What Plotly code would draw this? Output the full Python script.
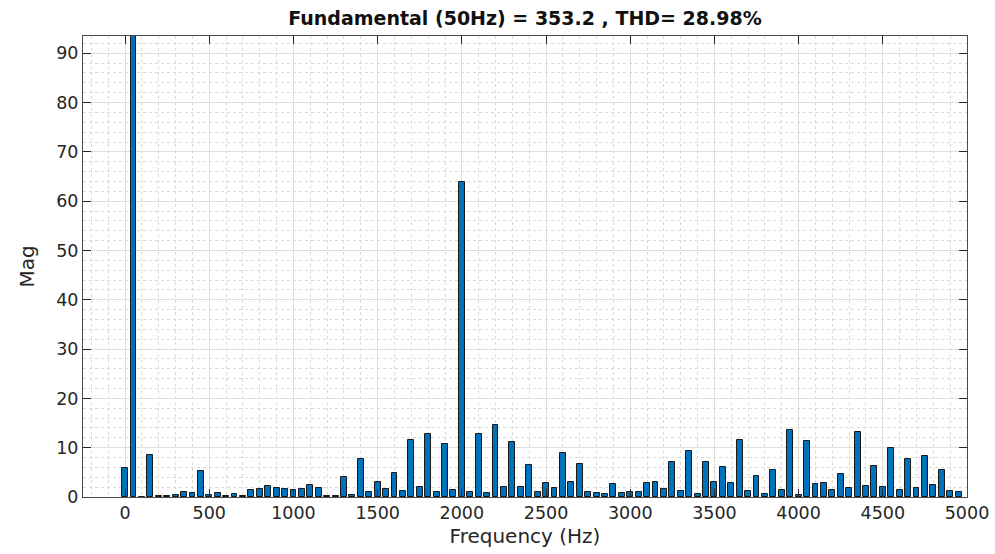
import plotly.graph_objects as go

# Harmonic spectrum: one bar every 50 Hz from DC up to 4950 Hz
freqs = list(range(0, 5000, 50))
mags = [
    5.8, 353.2, 0.1, 8.45, 0.2, 0.2, 0.35, 1.1, 0.75, 5.3,
    0.4, 0.9, 0.15, 0.55, 0.2, 1.4, 1.6, 2.2, 1.75, 1.6,
    1.4, 1.6, 2.4, 1.75, 0.15, 0.2, 4.1, 0.4, 7.7, 1.0,
    3.0, 1.55, 4.8, 1.15, 11.55, 1.95, 12.8, 1.0, 10.7, 1.5,
    63.8, 1.0, 12.7, 0.9, 14.7, 2.0, 11.2, 1.95, 6.4, 1.0,
    2.85, 1.8, 8.85, 3.1, 6.7, 1.1, 0.8, 0.7, 2.7, 0.8,
    0.95, 1.1, 2.9, 3.0, 1.55, 7.2, 1.15, 9.4, 0.7, 7.2,
    2.95, 6.0, 2.9, 11.6, 1.2, 4.3, 0.6, 5.4, 1.5, 13.6,
    0.5, 11.3, 2.6, 2.85, 1.35, 4.7, 1.75, 13.25, 2.3, 6.2,
    2.0, 9.9, 1.35, 7.7, 1.75, 8.4, 2.5, 5.55, 1.2, 1.0,
]
x_ticks = list(range(0, 5001, 500))
y_ticks = list(range(0, 91, 10))

fundamental = 353.2
thd = 28.98
title_text = f"Fundamental (50Hz) = {fundamental} , THD= {thd}%"

ink = "#262626"
font_family = "DejaVu Sans"

fig = go.Figure(
    go.Bar(
        x=freqs,
        y=mags,
        width=35,
        marker=dict(color="#0072BD", line=dict(color="#1a1a1a", width=1)),
        showlegend=False,
        hoverinfo="x+y",
    )
)

axis_common = dict(
    showline=True,
    linecolor="#4a4a4a",
    linewidth=1,
    mirror="allticks",
    ticks="inside",
    ticklen=8,
    tickcolor="#262626",
    tickwidth=1,
    showgrid=True,
    gridcolor="#dedede",
    gridwidth=1,
    zeroline=False,
    automargin=False,
    tickfont=dict(family=font_family, size=17.5, color=ink),
)

fig.update_xaxes(
    **axis_common,
    range=[-250, 5000],
    tickvals=x_ticks,
    ticktext=[str(v) for v in x_ticks],
    minor=dict(dtick=100, tick0=0, showgrid=True, gridcolor="#dadada",
               griddash="dot", gridwidth=1, ticks=""),
    title=dict(text="Frequency (Hz)", standoff=6,
               font=dict(family=font_family, size=20, color=ink)),
)
fig.update_yaxes(
    **axis_common,
    range=[0, 93.5],
    tickvals=y_ticks,
    ticktext=[str(v) for v in y_ticks],
    minor=dict(dtick=2, tick0=0, showgrid=True, gridcolor="#dadada",
               griddash="dot", gridwidth=1, ticks=""),
    title=dict(text="Mag", standoff=16,
               font=dict(family=font_family, size=20, color=ink)),
)

fig.update_layout(
    width=995,
    height=554,
    margin=dict(l=83, r=28, t=36, b=57),
    paper_bgcolor="white",
    plot_bgcolor="white",
    bargap=0,
    title=dict(
        text=title_text,
        x=0.5,
        xref="paper",
        xanchor="center",
        y=1 - 18 / 554,
        yref="container",
        yanchor="middle",
        font=dict(family=font_family, size=19, color="#111111", weight="bold"),
    ),
)

fig.write_html("out.html")
